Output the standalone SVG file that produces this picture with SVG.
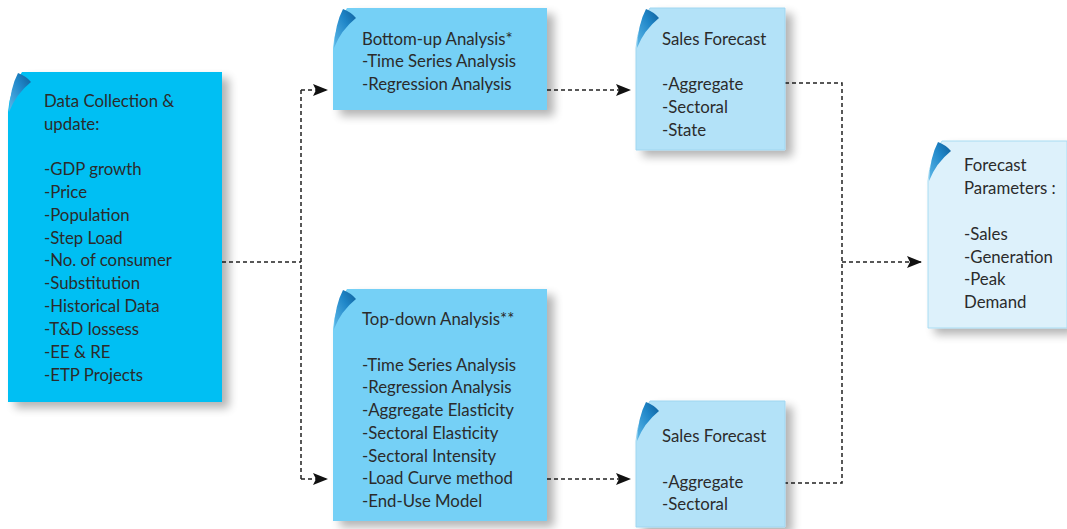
<svg xmlns="http://www.w3.org/2000/svg" width="1067" height="529" viewBox="0 0 1067 529">
<defs>
<filter id="sh" x="-10%" y="-10%" width="130%" height="130%">
<feGaussianBlur in="SourceAlpha" stdDeviation="5"/>
<feOffset dx="7" dy="6" result="b"/>
<feComponentTransfer><feFuncA type="linear" slope="0.3"/></feComponentTransfer>
<feMerge><feMergeNode/><feMergeNode in="SourceGraphic"/></feMerge>
</filter>
<linearGradient id="flap" x1="0" y1="1" x2="1" y2="0">
<stop offset="0" stop-color="#5db8e8"/>
<stop offset="0.6" stop-color="#1f86c8"/>
<stop offset="1" stop-color="#0f5e99"/>
</linearGradient>
<marker id="ah" markerUnits="userSpaceOnUse" markerWidth="15" markerHeight="12" refX="14" refY="6" orient="auto">
<path d="M0,0 L15,6 L0,12 L3,6 Z" fill="#111"/>
</marker>
</defs>
<style>
text{font-family:Lato,"Open Sans","DejaVu Sans",sans-serif;font-size:16.8px;fill:#2b2b2b}
.c{fill:none;stroke:#222;stroke-width:1.5;stroke-dasharray:4 3}
.f{fill:url(#flap)}
.n1{fill:#00BFF3}
.n2{fill:#74D0F6}
.n3{fill:#B3E2F8;stroke:#9fd6f0;stroke-width:1}
.n4{fill:#DDF1FB;stroke:#a8dcf2;stroke-width:1}
</style>
<rect width="1067" height="529" fill="#fff"/>

<g id="connectors">
<path class="c" d="M222,262 H301"/>
<path class="c" d="M301,90 V479"/>
<path class="c" d="M301,90 H327" marker-end="url(#ah)"/>
<path class="c" d="M301,479 H327" marker-end="url(#ah)"/>
<path class="c" d="M547,90 H630" marker-end="url(#ah)"/>
<path class="c" d="M547,479 H630" marker-end="url(#ah)"/>
<path class="c" d="M785,83 H842 V483 H785"/>
<path class="c" d="M842,262 H921" marker-end="url(#ah)"/>
</g>

<g id="n-data">
<path class="n1" filter="url(#sh)" d="M22,72 H222 V402 H8 V112 Q10,88 22,72 Z"/>
<path class="f" d="M18,73 Q26,76 31,82 Q16,94 9,112 Q10,88 18,73 Z"/>
<text x="44" y="107">Data Collection &amp;</text>
<text x="44" y="130">update:</text>
<text x="44" y="175">-GDP growth</text>
<text x="44" y="198">-Price</text>
<text x="44" y="221">-Population</text>
<text x="44" y="244">-Step Load</text>
<text x="44" y="266">-No. of consumer</text>
<text x="44" y="289">-Substitution</text>
<text x="44" y="312">-Historical Data</text>
<text x="44" y="335">-T&amp;D lossess</text>
<text x="44" y="358">-EE &amp; RE</text>
<text x="44" y="381">-ETP Projects</text>
</g>

<g id="n-bottomup">
<path class="n2" filter="url(#sh)" d="M347,8 H547 V110 H333 V48 Q335,24 347,8 Z"/>
<path class="f" d="M343,9 Q351,12 356,18 Q341,30 334,48 Q335,24 343,9 Z"/>
<text x="362" y="45">Bottom-up Analysis*</text>
<text x="362" y="67">-Time Series Analysis</text>
<text x="362" y="90">-Regression Analysis</text>
</g>

<g id="n-sales-top">
<path class="n3" filter="url(#sh)" d="M650,8 H785 V150 H636 V48 Q638,24 650,8 Z"/>
<path class="f" d="M646,9 Q654,12 659,18 Q644,30 637,48 Q638,24 646,9 Z"/>
<text x="662" y="45">Sales Forecast</text>
<text x="662" y="90">-Aggregate</text>
<text x="662" y="113">-Sectoral</text>
<text x="662" y="136">-State</text>
</g>

<g id="n-params">
<path class="n4" filter="url(#sh)" d="M942,141 H1067 V328 H928 V181 Q930,157 942,141 Z"/>
<path class="f" d="M938,142 Q946,145 951,151 Q936,163 929,181 Q930,157 938,142 Z"/>
<text x="964" y="171">Forecast</text>
<text x="964" y="194">Parameters :</text>
<text x="964" y="240">-Sales</text>
<text x="964" y="263">-Generation</text>
<text x="964" y="285">-Peak</text>
<text x="964" y="308">Demand</text>
</g>

<g id="n-topdown">
<path class="n2" filter="url(#sh)" d="M347,289 H547 V521 H333 V329 Q335,305 347,289 Z"/>
<path class="f" d="M343,290 Q351,293 356,299 Q341,311 334,329 Q335,305 343,290 Z"/>
<text x="362" y="325">Top-down Analysis**</text>
<text x="362" y="371">-Time Series Analysis</text>
<text x="362" y="393">-Regression Analysis</text>
<text x="362" y="416">-Aggregate Elasticity</text>
<text x="362" y="439">-Sectoral Elasticity</text>
<text x="362" y="462">-Sectoral Intensity</text>
<text x="362" y="484">-Load Curve method</text>
<text x="362" y="507">-End-Use Model</text>
</g>

<g id="n-sales-bottom">
<path class="n3" filter="url(#sh)" d="M650,401 H785 V527 H636 V441 Q638,417 650,401 Z"/>
<path class="f" d="M646,402 Q654,405 659,411 Q644,423 637,441 Q638,417 646,402 Z"/>
<text x="662" y="442">Sales Forecast</text>
<text x="662" y="488">-Aggregate</text>
<text x="662" y="510">-Sectoral</text>
</g>
</svg>
